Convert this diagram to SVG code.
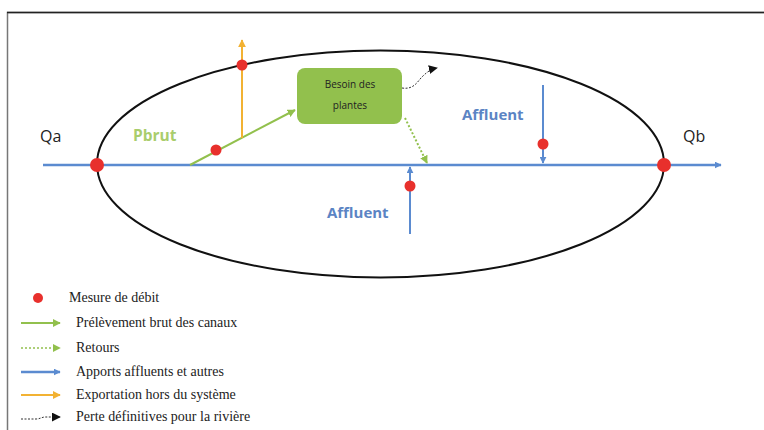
<svg xmlns="http://www.w3.org/2000/svg" width="764" height="430" viewBox="0 0 764 430">
<defs>
<style>
.lbl{font-family:"Open Sans","Liberation Sans",sans-serif;}
.leg{font-family:"Liberation Serif",serif;font-size:14px;fill:#222;}
.dot{fill:#e8302c;}
</style>
<marker id="aBlue" viewBox="0 0 10 10" refX="9" refY="5" markerWidth="7" markerHeight="7" markerUnits="userSpaceOnUse" orient="auto"><path d="M0,0 L10,5 L0,10 z" fill="#5b8bd0"/></marker>
<marker id="aGreen" viewBox="0 0 10 10" refX="9" refY="5" markerWidth="8" markerHeight="8" markerUnits="userSpaceOnUse" orient="auto"><path d="M0,0 L10,5 L0,10 z" fill="#92c04d"/></marker>
<marker id="aOrange" viewBox="0 0 10 10" refX="9" refY="5" markerWidth="8" markerHeight="8" markerUnits="userSpaceOnUse" orient="auto"><path d="M0,0 L10,5 L0,10 z" fill="#f2b233"/></marker>
<marker id="aBlack" viewBox="0 0 10 10" refX="9" refY="5" markerWidth="9" markerHeight="9" markerUnits="userSpaceOnUse" orient="auto"><path d="M0,0 L10,5 L0,10 z" fill="#111"/></marker>
</defs>
<rect width="764" height="430" fill="#fff"/>
<path d="M7.5,430 V12.5 H764" fill="none" stroke="#777" stroke-width="1.5"/>
<line x1="7" y1="12.5" x2="764" y2="12.5" stroke="#222" stroke-width="1.5"/>

<g id="basin">
<ellipse cx="380.5" cy="164" rx="283.5" ry="113.5" fill="none" stroke="#111" stroke-width="2"/>
</g>

<g id="connectors">
<line x1="43" y1="165" x2="721" y2="165" stroke="#5b8bd0" stroke-width="2.5" marker-end="url(#aBlue)"/>
<line x1="190" y1="165" x2="295" y2="110" stroke="#92c04d" stroke-width="2" marker-end="url(#aGreen)"/>
<line x1="242" y1="138" x2="242" y2="40" stroke="#f2b233" stroke-width="2" marker-end="url(#aOrange)"/>
<line x1="405" y1="118" x2="427" y2="163" stroke="#92c04d" stroke-width="2" stroke-dasharray="2,2" marker-end="url(#aGreen)"/>
<path d="M402,88 C415,90 418,80 423,76 C428,71 432,69 437,68" fill="none" stroke="#333" stroke-width="1" stroke-dasharray="2,1.5" marker-end="url(#aBlack)"/>
<line x1="543" y1="85" x2="543" y2="163" stroke="#5b8bd0" stroke-width="2" marker-end="url(#aBlue)"/>
<line x1="410" y1="234" x2="410" y2="167" stroke="#5b8bd0" stroke-width="2" marker-end="url(#aBlue)"/>
</g>

<g id="dots">
<circle class="dot" cx="97" cy="165" r="7"/>
<circle class="dot" cx="664" cy="165" r="7"/>
<circle class="dot" cx="216" cy="150" r="5.5"/>
<circle class="dot" cx="242" cy="65" r="5.5"/>
<circle class="dot" cx="543" cy="144" r="5.5"/>
<circle class="dot" cx="410" cy="186" r="5.5"/>
</g>

<g id="besoin">
<rect x="297" y="68" width="105" height="56" rx="8" fill="#92c04d"/>
<text class="lbl" x="350" y="88" font-size="10" text-anchor="middle" fill="#222">Besoin des</text>
<text class="lbl" x="350" y="109" font-size="10" text-anchor="middle" fill="#222">plantes</text>
</g>

<g id="labels">
<text class="lbl" x="40" y="142" font-size="16" fill="#222">Qa</text>
<text class="lbl" x="683" y="142" font-size="16" fill="#222">Qb</text>
<text class="lbl" x="133" y="141" font-size="15.5" font-weight="bold" fill="#a9cd6c">Pbrut</text>
<text class="lbl" x="462" y="120" font-size="15" font-weight="bold" fill="#5b84c4">Affluent</text>
<text class="lbl" x="327" y="218" font-size="15" font-weight="bold" fill="#5b84c4">Affluent</text>
</g>

<g id="legend">
<circle class="dot" cx="38" cy="298" r="5"/>
<text class="leg" x="69" y="302">Mesure de débit</text>
<line x1="21" y1="323" x2="60" y2="323" stroke="#92c04d" stroke-width="2" marker-end="url(#aGreen)"/>
<text class="leg" x="76" y="327">Prélèvement brut des canaux</text>
<line x1="21" y1="348" x2="60" y2="348" stroke="#92c04d" stroke-width="1.5" stroke-dasharray="2,2" marker-end="url(#aGreen)"/>
<text class="leg" x="76" y="352">Retours</text>
<line x1="21" y1="372" x2="60" y2="372" stroke="#5b8bd0" stroke-width="2.5" marker-end="url(#aBlue)"/>
<text class="leg" x="76" y="376">Apports affluents et autres</text>
<line x1="21" y1="395" x2="60" y2="395" stroke="#f2b233" stroke-width="2" marker-end="url(#aOrange)"/>
<text class="leg" x="76" y="399">Exportation hors du système</text>
<path d="M21,419 H36 C40,419 42,417 45,417 H60" fill="none" stroke="#333" stroke-width="1" stroke-dasharray="2,1.5" marker-end="url(#aBlack)"/>
<text class="leg" x="76" y="421">Perte définitives pour la rivière</text>
</g>
</svg>
